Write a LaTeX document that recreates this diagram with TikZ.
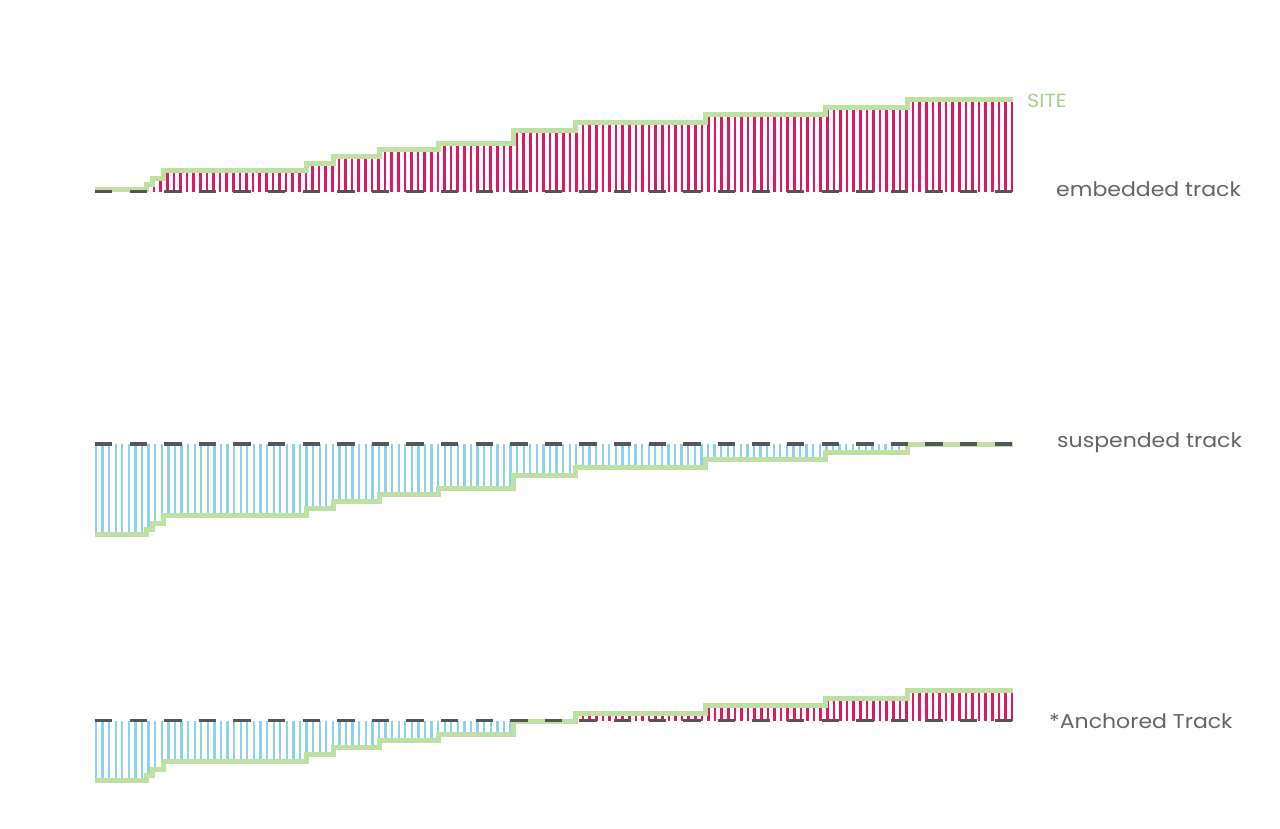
\documentclass[tikz,border=0pt]{standalone}
\usepackage{fontspec}
\setmainfont{Poppins}
\newfontfamily\labfont[FakeStretch=1.1]{Poppins}
\definecolor{sitegreen}{RGB}{190,224,162}
\definecolor{barred}{RGB}{224,24,95}
\definecolor{barblue}{RGB}{140,210,236}
\definecolor{trackgray}{RGB}{85,85,85}
\definecolor{labgray}{RGB}{100,100,100}
\definecolor{sitelabel}{RGB}{170,205,140}
\pgfmathdeclarefunction{siteh}{1}{%
  \pgfmathparse{#1<146 ? 2 : (#1<152 ? 7 : (#1<163 ? 13 : (#1<306 ? 21 : (#1<333 ? 28 : (#1<379 ? 35 : (#1<438 ? 42 : (#1<513 ? 48 : (#1<575 ? 61 : (#1<705 ? 69 : (#1<825 ? 77 : (#1<907 ? 84 : 92)))))))))))}%
}
\tikzset{
  redbar/.style={draw=barred, line width=2.6pt},
  bluebar/.style={draw=barblue, line width=2.3pt},
  siteline/.style={draw=sitegreen, line width=5pt, line join=miter},
  track/.style={draw=trackgray, line width=3.6pt, dash pattern=on 17.3pt off 17.3pt},
  lab/.style={text=labgray, font=\labfont\fontsize{20}{24}\selectfont, inner sep=0pt, anchor=base west},
  sitelab/.style={text=sitelabel, font=\labfont\fontsize{19}{23}\selectfont, inner sep=0pt, anchor=base west}
}
\newcommand{\siteprofile}{(95,-2) -- (146,-2) -- (146,-7) -- (152,-7) -- (152,-13) -- (163,-13) -- (163,-21) -- (306,-21) -- (306,-28) -- (333,-28) -- (333,-35) -- (379,-35) -- (379,-42) -- (438,-42) -- (438,-48) -- (513,-48) -- (513,-61) -- (575,-61) -- (575,-69) -- (705,-69) -- (705,-77) -- (825,-77) -- (825,-84) -- (907,-84) -- (907,-92) -- (1013,-92)}
\begin{document}
\begin{tikzpicture}[x=1pt,y=-1pt]
\useasboundingbox (0,0) rectangle (1280,828);
\fill[white] (0,0) rectangle (1280,828);

% ---------- embedded track ----------
\foreach \k in {0,...,130}{
  \pgfmathsetmacro\xx{154+6.6*\k}
  \pgfmathsetmacro\hh{siteh(\xx)}
  \draw[redbar] (\xx,191.5) -- (\xx,191.5-\hh);
}
\begin{scope}[shift={(0,191.5)}]
  \draw[siteline] \siteprofile;
\end{scope}
\draw[track] (95,191.5) -- (1013,191.5);

% ---------- suspended track ----------
\foreach \k in {0,...,122}{
  \pgfmathsetmacro\xx{96+6.58*\k}
  \pgfmathsetmacro\hh{siteh(\xx)}
  \draw[bluebar] (\xx,444) -- (\xx,536-\hh);
}
\begin{scope}[shift={(0,536)}]
  \draw[siteline] \siteprofile;
\end{scope}
\draw[track] (95,444) -- (1013,444);

% ---------- anchored track ----------
\foreach \k in {0,...,63}{
  \pgfmathsetmacro\xx{96+6.58*\k}
  \pgfmathsetmacro\hh{siteh(\xx)}
  \draw[bluebar] (\xx,720.5) -- (\xx,782-\hh);
}
\foreach \k in {65,...,130}{
  \pgfmathsetmacro\xx{154+6.6*\k}
  \pgfmathsetmacro\hh{siteh(\xx)}
  \draw[redbar] (\xx,720.5) -- (\xx,782-\hh);
}
\begin{scope}[shift={(0,782)}]
  \draw[siteline] \siteprofile;
\end{scope}
\draw[track] (95,720.5) -- (1013,720.5);

% ---------- labels ----------
\node[sitelab] (lsite) at (1027,107) {SITE};
\node[lab] (lemb) at (1056,196) {embedded track};
\node[lab] (lsus) at (1057,447) {suspended track};
\node[lab] (lanc) at (1049,728) {*Anchored Track};
\end{tikzpicture}
\end{document}
